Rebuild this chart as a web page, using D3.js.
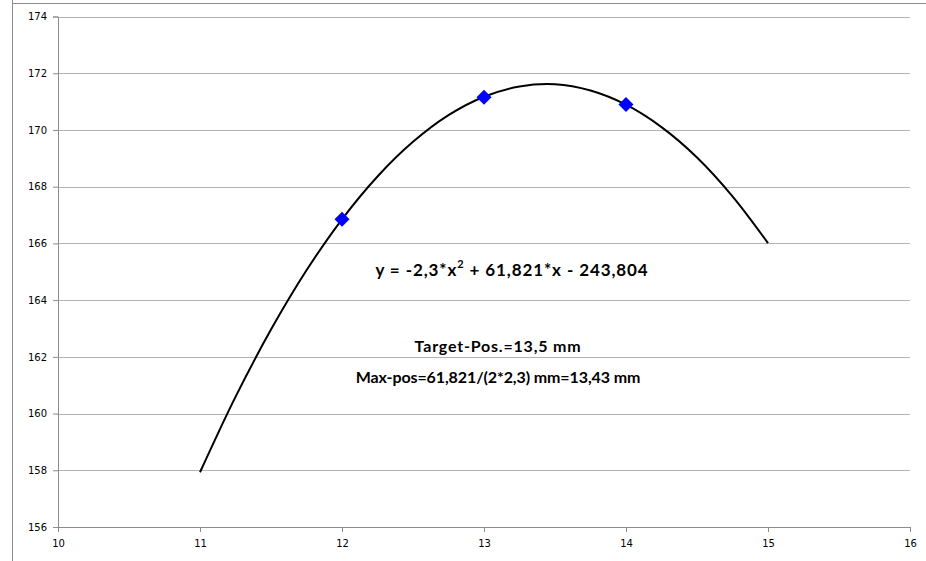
<!DOCTYPE html>
<html><head><meta charset="utf-8">
<script src="https://cdn.jsdelivr.net/npm/d3@7"></script>
<style>
html,body{margin:0;padding:0;background:#fff;}
svg{display:block;}
</style></head>
<body>
<svg id="chart" width="926" height="561"></svg>
<script>
// Measured points
const pointX = [12, 13, 14];
const pointY = [166.85, 171.15, 170.9];
// Fitted trend curve
const curveX = [11, 11.25, 11.5, 11.75, 12, 12.25, 12.5, 12.75, 13, 13.25, 13.5, 13.75, 14, 14.25, 14.5, 14.75, 15];
const curveY = [157.93, 160.59, 162.96, 165.05, 166.85, 168.36, 169.58, 170.52, 171.17, 171.53, 171.61, 171.39, 170.89, 170.10, 169.03, 167.66, 166.01];
// Axis ticks
const xTicks = [10, 11, 12, 13, 14, 15, 16];
const yTicks = [156, 158, 160, 162, 164, 166, 168, 170, 172, 174];
// Annotations
const formulaParts = ["y = -2,3*x", "2", " + 61,821*x - 243,804"];
const noteLines = ["Target-Pos.=13,5 mm", "Max-pos=61,821/(2*2,3) mm=13,43 mm"];

const svg = d3.select("#chart");
const x = d3.scaleLinear().domain([10, 16]).range([58, 910]);
const y = d3.scaleLinear().domain([156, 174]).range([527, 16.5]);

// outer frame
svg.append("line").attr("x1", 12.5).attr("x2", 12.5).attr("y1", 0).attr("y2", 561)
  .attr("stroke", "#8c8c8c").attr("stroke-width", 1);
svg.append("line").attr("x1", 12).attr("x2", 926).attr("y1", 3.5).attr("y2", 3.5)
  .attr("stroke", "#8c8c8c").attr("stroke-width", 1);

// gridlines
svg.append("g").selectAll("line").data(yTicks.slice(1)).join("line")
  .attr("x1", x(10)).attr("x2", x(16))
  .attr("y1", d => Math.round(y(d)) + 0.5).attr("y2", d => Math.round(y(d)) + 0.5)
  .attr("stroke", "#b3b3b3").attr("stroke-width", 1);

const tickFont = "'DejaVu Sans', Verdana, sans-serif";

// y axis
const yAxis = svg.append("g").attr("transform", `translate(${x(10)},0)`)
  .call(d3.axisLeft(y).tickValues(yTicks).tickSize(5).tickPadding(6).tickFormat(d3.format("d")));
// x axis
const xAxis = svg.append("g").attr("transform", `translate(0,${y(156)})`)
  .call(d3.axisBottom(x).tickValues(xTicks).tickSize(5).tickPadding(8).tickFormat(d3.format("d")));
[yAxis, xAxis].forEach(a => {
  a.select(".domain").attr("stroke", "#8c8c8c");
  a.selectAll(".tick line").attr("stroke", "#8c8c8c");
  a.selectAll(".tick text").attr("fill", "#000").style("font-family", tickFont).style("font-size", "10px");
});

// curve
const pts = curveX.map((d, i) => [d, curveY[i]]);
svg.append("path").datum(pts)
  .attr("d", d3.line().x(d => x(d[0])).y(d => y(d[1])).curve(d3.curveCatmullRom))
  .attr("fill", "none").attr("stroke", "#000").attr("stroke-width", 2);

// diamonds
svg.append("g").selectAll("path").data(pointX.map((d, i) => [d, pointY[i]])).join("path")
  .attr("transform", d => `translate(${x(d[0])},${y(d[1])})`)
  .attr("d", "M0,-7.5L7.5,0L0,7.5L-7.5,0Z")
  .attr("fill", "#0000ff");

// formula
const annFont = "Lato, 'Open Sans', sans-serif";
const ft = svg.append("text").attr("x", 512).attr("y", 276).attr("text-anchor", "middle")
  .style("font-family", annFont).style("font-weight", "bold").style("font-size", "17px")
  .style("letter-spacing", "0.9px").attr("fill", "#000");
ft.append("tspan").text(formulaParts[0]);
ft.append("tspan").attr("dy", -8).style("font-size", "11px").text(formulaParts[1]);
ft.append("tspan").attr("dy", 8).text(formulaParts[2]);

svg.append("g").selectAll("text").data(noteLines).join("text")
  .attr("x", 498).attr("y", (d, i) => 352 + i * 31).attr("text-anchor", "middle")
  .style("font-family", annFont).style("font-weight", "bold").style("font-size", "16px")
  .style("letter-spacing", (d, i) => i === 0 ? "0.8px" : "-0.1px").attr("fill", "#000")
  .text(d => d);
</script>
</body></html>
